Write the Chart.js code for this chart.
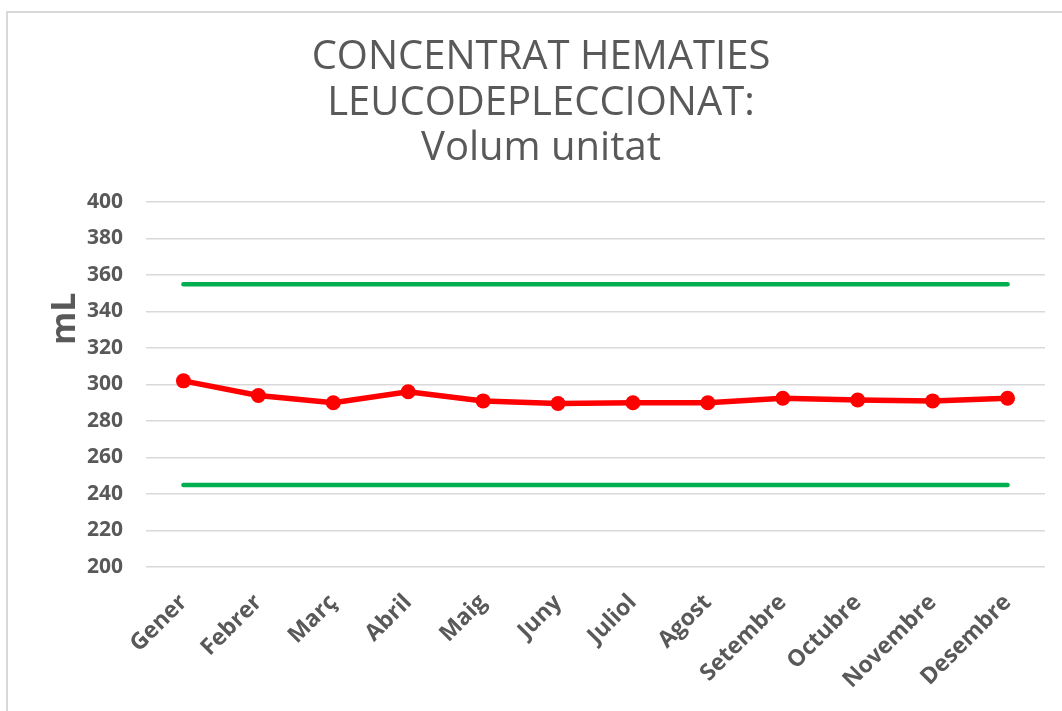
<!DOCTYPE html>
<html>
<head>
<meta charset="utf-8">
<script src="https://cdn.jsdelivr.net/npm/chart.js@4.4.1/dist/chart.umd.min.js"></script>
<style>
  html, body { margin: 0; padding: 0; background: #ffffff; }
  #wrap { position: relative; width: 1062px; height: 711px; overflow: hidden; }
  #frame { position: absolute; left: 6px; top: 11px; width: 1100px; height: 800px;
           border-left: 2px solid #d9d9d9; border-top: 2px solid #d9d9d9; box-sizing: border-box; }
  canvas { position: absolute; left: 0; top: 0; }
</style>
</head>
<body>
<div id="wrap">
  <div id="frame"></div>
  <canvas id="c" width="1062" height="711"></canvas>
</div>
<script>
const months = ["Gener", "Febrer", "Març", "Abril", "Maig", "Juny", "Juliol", "Agost", "Setembre", "Octubre", "Novembre", "Desembre"];
const volum = [302, 294, 290, 296, 291, 289.6, 290, 290, 292.5, 291.5, 291, 292.5];
const limitSuperior = [355, 355, 355, 355, 355, 355, 355, 355, 355, 355, 355, 355];
const limitInferior = [245, 245, 245, 245, 245, 245, 245, 245, 245, 245, 245, 245];
const titleLines = ["CONCENTRAT HEMATIES", "LEUCODEPLECCIONAT:", "Volum unitat"];
const yTitle = "mL";
const yMin = 200, yMax = 400, yStep = 20;

const grey = "#595959";
Chart.defaults.font.family = "'Open Sans', sans-serif";

// Draws the vertical axis title ("mL") beside the value axis
const yTitlePlugin = {
  id: "yTitle",
  afterDraw(chart) {
    const ctx = chart.ctx;
    const area = chart.chartArea;
    ctx.save();
    ctx.translate(65, area.top + (area.bottom - area.top) * 0.32);
    ctx.rotate(-Math.PI / 2);
    ctx.fillStyle = grey;
    ctx.font = "bold 34px 'Open Sans', sans-serif";
    ctx.textAlign = "center";
    ctx.textBaseline = "middle";
    ctx.fillText(yTitle, 0, 0);
    ctx.restore();
  }
};

new Chart(document.getElementById("c"), {
  type: "line",
  data: {
    labels: months,
    datasets: [
      {
        label: "Límit superior",
        data: limitSuperior,
        borderColor: "#00b050",
        borderWidth: 4.5,
        borderCapStyle: "round",
        pointRadius: 0,
        pointHoverRadius: 0,
        fill: false
      },
      {
        label: "Límit inferior",
        data: limitInferior,
        borderColor: "#00b050",
        borderWidth: 4.5,
        borderCapStyle: "round",
        pointRadius: 0,
        pointHoverRadius: 0,
        fill: false
      },
      {
        label: "Volum",
        data: volum,
        borderColor: "#ff0000",
        backgroundColor: "#ff0000",
        borderWidth: 5.5,
        pointRadius: 7.5,
        pointBorderWidth: 0,
        pointBackgroundColor: "#ff0000",
        tension: 0,
        fill: false
      }
    ]
  },
  options: {
    responsive: false,
    animation: false,
    layout: { padding: { left: 37, right: 17, top: 0, bottom: 0 } },
    plugins: {
      legend: { display: false },
      tooltip: { enabled: false },
      title: {
        display: true,
        text: titleLines,
        color: grey,
        font: { size: 40, weight: "normal", lineHeight: 1.1375 },
        padding: { top: 35, bottom: 30.5 }
      }
    },
    scales: {
      x: {
        offset: true,
        grid: { display: false, drawTicks: false },
        border: { display: false },
        ticks: {
          color: grey,
          font: { size: 23, weight: "bold" },
          minRotation: 45,
          maxRotation: 45,
          padding: 22,
          autoSkip: false
        },
        afterFit: (s) => { s.height = 144; }
      },
      y: {
        min: yMin,
        max: yMax,
        grid: { color: "#d9d9d9", lineWidth: 1.5, drawTicks: false },
        border: { display: false },
        ticks: {
          stepSize: yStep,
          color: grey,
          font: { size: 21, weight: "bold" },
          padding: 23
        },
        afterFit: (s) => { s.width = 109; }
      }
    }
  },
  plugins: [yTitlePlugin]
});
</script>
</body>
</html>
